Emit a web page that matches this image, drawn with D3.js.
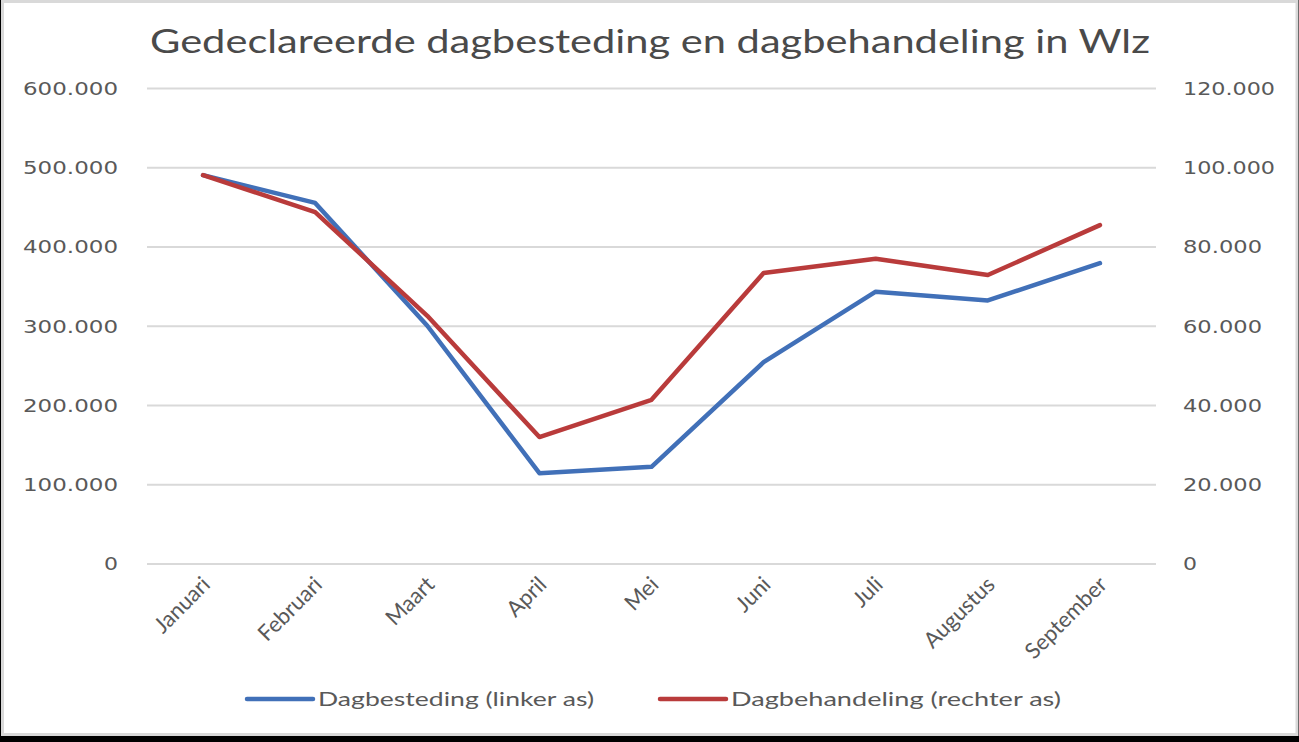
<!DOCTYPE html>
<html>
<head>
<meta charset="utf-8">
<script src="https://cdn.jsdelivr.net/npm/d3@7"></script>
<style>
  html, body { margin: 0; padding: 0; background: #000; }
  svg { display: block; }
</style>
</head>
<body>
<div id="chart"></div>
<script>
"use strict";

const MONTHS = ["Januari", "Februari", "Maart", "April", "Mei", "Juni", "Juli", "Augustus", "September"];
const DAGBESTEDING = [490000, 455000, 300000, 114000, 122000, 254000, 343000, 332000, 379000];
const DAGBEHANDELING = [98000, 88700, 62500, 31900, 41300, 73300, 76900, 72800, 85400];
const LEFT_TICKS = [0, 100000, 200000, 300000, 400000, 500000, 600000];
const RIGHT_TICKS = [0, 20000, 40000, 60000, 80000, 100000, 120000];
const TITLE = "Gedeclareerde dagbesteding en dagbehandeling in Wlz";
const LEGEND = ["Dagbesteding (linker as)", "Dagbehandeling (rechter as)"];

const WIDTH = 1299;
const HEIGHT = 742;
const PLOT_LEFT = 147;
const PLOT_RIGHT = 1156;
const PLOT_TOP = 88;
const PLOT_BOTTOM = 563.5;
const BLUE = "#4170b8";
const RED = "#b93b3b";
const GRID = "#d9d9d9";
const TEXT = "#595959";

const nl = d3.formatLocale({decimal: ",", thousands: ".", grouping: [3], currency: ["", ""]});
const fmt = nl.format(",d");

const svg = d3.select("#chart").append("svg")
    .attr("width", WIDTH)
    .attr("height", HEIGHT);

// black strip at the bottom, white card with grey frame
svg.append("rect").attr("width", WIDTH).attr("height", HEIGHT).attr("fill", "#000");
svg.append("rect")
    .attr("x", 2.5).attr("y", 1.5)
    .attr("width", WIDTH - 4.5).attr("height", 733)
    .attr("fill", "#fff")
    .attr("stroke", GRID)
    .attr("stroke-width", 3);

const x = d3.scaleBand().domain(MONTHS).range([PLOT_LEFT, PLOT_RIGHT]).padding(0);
const yLeft = d3.scaleLinear().domain([0, 600000]).range([PLOT_BOTTOM, PLOT_TOP]);
const yRight = d3.scaleLinear().domain([0, 120000]).range([PLOT_BOTTOM, PLOT_TOP]);
const cx = function (m) { return x(m) + x.bandwidth() / 2; };

// left axis with gridlines
const leftAxis = svg.append("g")
    .attr("transform", "translate(" + PLOT_LEFT + ",0)")
    .call(d3.axisLeft(yLeft).tickValues(LEFT_TICKS).tickFormat(fmt)
        .tickSize(-(PLOT_RIGHT - PLOT_LEFT)).tickPadding(29));
leftAxis.select(".domain").remove();
leftAxis.selectAll(".tick line").attr("stroke", GRID).attr("stroke-width", 2);
leftAxis.selectAll(".tick text")
    .attr("fill", TEXT)
    .style("font-family", "DejaVu Sans")
    .style("font-size", "18px")
    .attr("dy", "0.36em")
    .each(function () {
        const t = d3.select(this);
        const w = t.text().length > 1 ? 95 : 14;
        t.attr("textLength", w).attr("lengthAdjust", "spacingAndGlyphs");
    });

// right axis labels only
const rightAxis = svg.append("g")
    .attr("transform", "translate(" + PLOT_RIGHT + ",0)")
    .call(d3.axisRight(yRight).tickValues(RIGHT_TICKS).tickFormat(fmt).tickSize(0).tickPadding(27));
rightAxis.select(".domain").remove();
rightAxis.selectAll(".tick text")
    .attr("fill", TEXT)
    .style("font-family", "DejaVu Sans")
    .style("font-size", "18px")
    .attr("dy", "0.36em")
    .each(function () {
        const t = d3.select(this);
        const n = t.text().length;
        const w = n === 7 ? 92 : (n === 6 ? 79 : 14);
        t.attr("textLength", w).attr("lengthAdjust", "spacingAndGlyphs");
    });

// category labels, rotated
svg.append("g").selectAll("text")
    .data(MONTHS)
    .enter()
    .append("text")
    .attr("transform", function (d) {
        return "translate(" + (cx(d) + 3) + "," + (PLOT_BOTTOM + 17) + ") rotate(-45)";
    })
    .attr("text-anchor", "end")
    .attr("dy", "0.35em")
    .attr("fill", TEXT)
    .style("font-family", "Lato")
    .style("font-size", "22px")
    .text(function (d) { return d; });

// lines
const lineLeft = d3.line()
    .x(function (d, i) { return cx(MONTHS[i]); })
    .y(function (d) { return yLeft(d); });
const lineRight = d3.line()
    .x(function (d, i) { return cx(MONTHS[i]); })
    .y(function (d) { return yRight(d); });

svg.append("path")
    .datum(DAGBESTEDING)
    .attr("d", lineLeft)
    .attr("fill", "none")
    .attr("stroke", BLUE)
    .attr("stroke-width", 4.5)
    .attr("stroke-linejoin", "round")
    .attr("stroke-linecap", "round");

svg.append("path")
    .datum(DAGBEHANDELING)
    .attr("d", lineRight)
    .attr("fill", "none")
    .attr("stroke", RED)
    .attr("stroke-width", 4.5)
    .attr("stroke-linejoin", "round")
    .attr("stroke-linecap", "round");

// title
svg.append("text")
    .attr("x", 650)
    .attr("y", 53)
    .attr("text-anchor", "middle")
    .attr("fill", "#4a4a4a")
    .style("font-family", "Lato")
    .style("font-size", "33px")
    .attr("textLength", 1000)
    .attr("lengthAdjust", "spacingAndGlyphs")
    .text(TITLE);

// legend
const legendItems = [
    {label: LEGEND[0], color: BLUE, x: 247, w: 276},
    {label: LEGEND[1], color: RED, x: 660, w: 330}
];
const legend = svg.append("g").selectAll("g")
    .data(legendItems)
    .enter()
    .append("g")
    .attr("transform", function (d) { return "translate(" + d.x + ",699)"; });
legend.append("line")
    .attr("x1", 0).attr("x2", 66)
    .attr("stroke", function (d) { return d.color; })
    .attr("stroke-width", 4.5)
    .attr("stroke-linecap", "round");
legend.append("text")
    .attr("x", 71)
    .attr("dy", "0.35em")
    .attr("fill", TEXT)
    .style("font-family", "Lato")
    .style("font-size", "19px")
    .attr("textLength", function (d) { return d.w; })
    .attr("lengthAdjust", "spacingAndGlyphs")
    .text(function (d) { return d.label; });
</script>
</body>
</html>
